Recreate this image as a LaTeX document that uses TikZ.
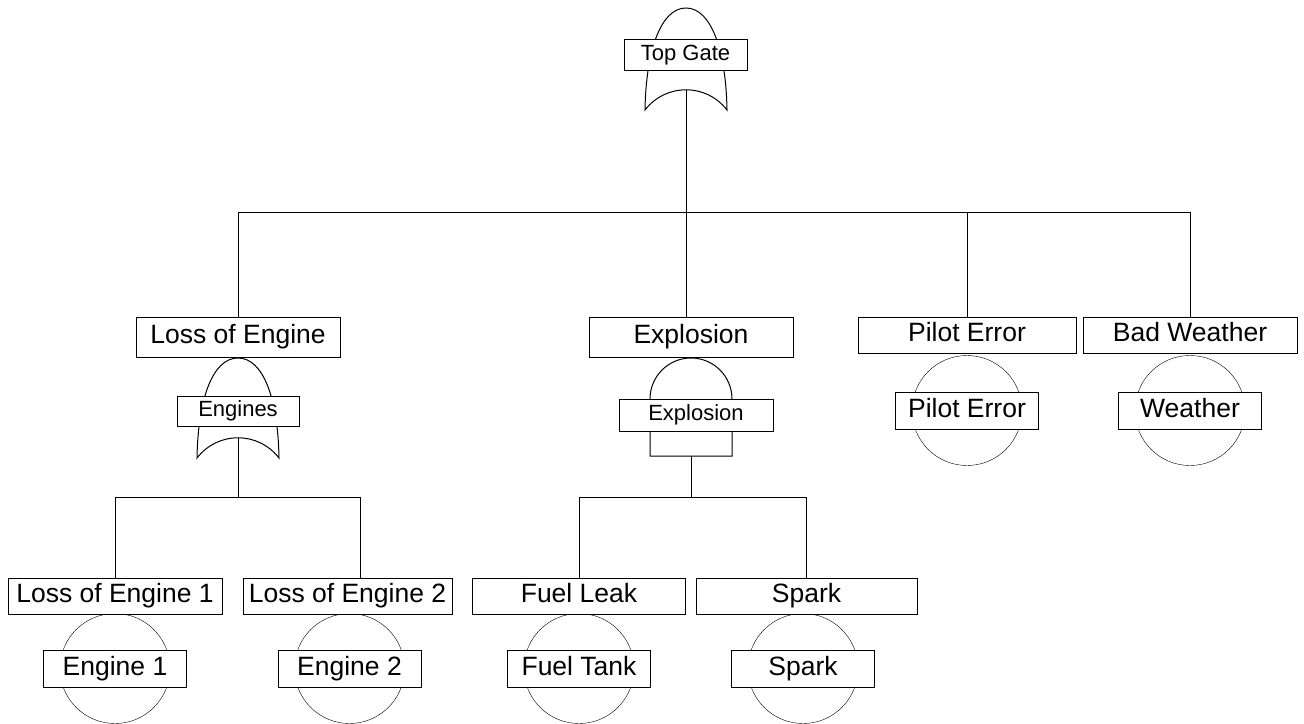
\documentclass[tikz,border=0pt]{standalone}
\usepackage{fontspec}
\setmainfont{Liberation Sans}
\usetikzlibrary{positioning, backgrounds}
\newcommand{\evsize}{\fontsize{26.5}{30}\selectfont}
\newcommand{\gtsize}{\fontsize{22}{26}\selectfont}

\begin{document}
\begin{tikzpicture}[
    x=1pt, y=-1pt,
    line width=1pt,
    event/.style={rectangle, draw, fill=white, inner sep=0pt,
                  minimum width=#1, minimum height=36pt,
                  text height=19pt, text depth=5.5pt, font=\evsize},
    basic/.style={rectangle, draw, fill=white, inner sep=0pt,
                  minimum width=143pt, minimum height=37pt,
                  text height=19pt, text depth=5.5pt, font=\evsize},
    gatelabel/.style={rectangle, draw, fill=white, inner sep=0pt,
                  minimum width=#1, minimum height=31pt,
                  text height=16pt, text depth=4.5pt, font=\gtsize},
]
    \useasboundingbox (0,0) rectangle (1304,723);

    % Gates
    \draw (645,110) .. controls (646,50) and (661,8) .. (686,8)
          .. controls (711,8) and (726,50) .. (727,110)
          .. controls (706,83) and (666,83) .. (645,110) -- cycle;
    \node[gatelabel=123pt] (topgate) at (685.5,55) {Top Gate};
    \coordinate (topout) at (686,89.75);

    \draw (197,458) .. controls (198,398) and (213,358) .. (238,358)
          .. controls (263,358) and (278,398) .. (279,458)
          .. controls (258,431) and (218,431) .. (197,458) -- cycle;
    \node[gatelabel=122pt, minimum height=30pt] (engines) at (238,411) {Engines};
    \coordinate (engout) at (238,437.75);

    \draw (650,456) -- (650,399) arc[start angle=180, end angle=0, radius=41pt]
          -- (732,456) -- cycle;
    \node[gatelabel=154pt, minimum height=32pt] (explgate) at (696,415) {Explosion};
    \coordinate (explout) at (691,456);

    % Events
    \node[event=204pt, minimum height=40pt] (loe) at (238,337) {Loss of Engine};
    \node[event=204pt, minimum height=40pt] (expl) at (691,337) {Explosion};
    \node[event=218pt] (pilot) at (967,335) {Pilot Error};
    \node[event=214pt] (badwx) at (1190,335) {Bad Weather};

    \node[event=214pt] (loe1) at (115,596) {Loss of Engine 1};
    \node[event=209pt] (loe2) at (347.5,596) {Loss of Engine 2};
    \node[event=213pt] (leak) at (579,596) {Fuel Leak};
    \node[event=221pt] (spark) at (806.5,596) {Spark};

    % Basic events
    \node[basic, below=38pt of pilot] (pilotev) {Pilot Error};
    \node[basic, below=38pt of badwx] (wxev) {Weather};
    \node[basic, below=35pt of loe1] (eng1) {Engine 1};
    \node[basic, below=35pt of loe2, xshift=2pt] (eng2) {Engine 2};
    \node[basic, below=35pt of leak] (tank) {Fuel Tank};
    \node[basic, below=35pt of spark, xshift=-3.5pt] (sparkev) {Spark};

    \begin{scope}[on background layer]
        \foreach \n in {pilotev, wxev, eng1, eng2, tank, sparkev}
            \draw (\n.center) circle[radius=55pt];
    \end{scope}

    % Connectors
    \coordinate (topbus) at (686,212);
    \draw (topout) -- (topbus);
    \draw (loe.north) |- (topbus -| badwx.north) -- (badwx.north);
    \draw (topbus) -- (topbus |- expl.north);
    \draw (pilot.north) -- (pilot.north |- topbus);

    \coordinate (engbus) at (238,497);
    \coordinate (loe2drop) at ([xshift=12.5pt]loe2.north);
    \draw (engout) -- (engbus);
    \draw (loe1.north) |- (engbus -| loe2drop) -- (loe2drop);

    \coordinate (explbus) at (691,497);
    \draw (explout) -- (explbus);
    \draw (leak.north) |- (explbus -| spark.north) -- (spark.north);
\end{tikzpicture}
\end{document}
